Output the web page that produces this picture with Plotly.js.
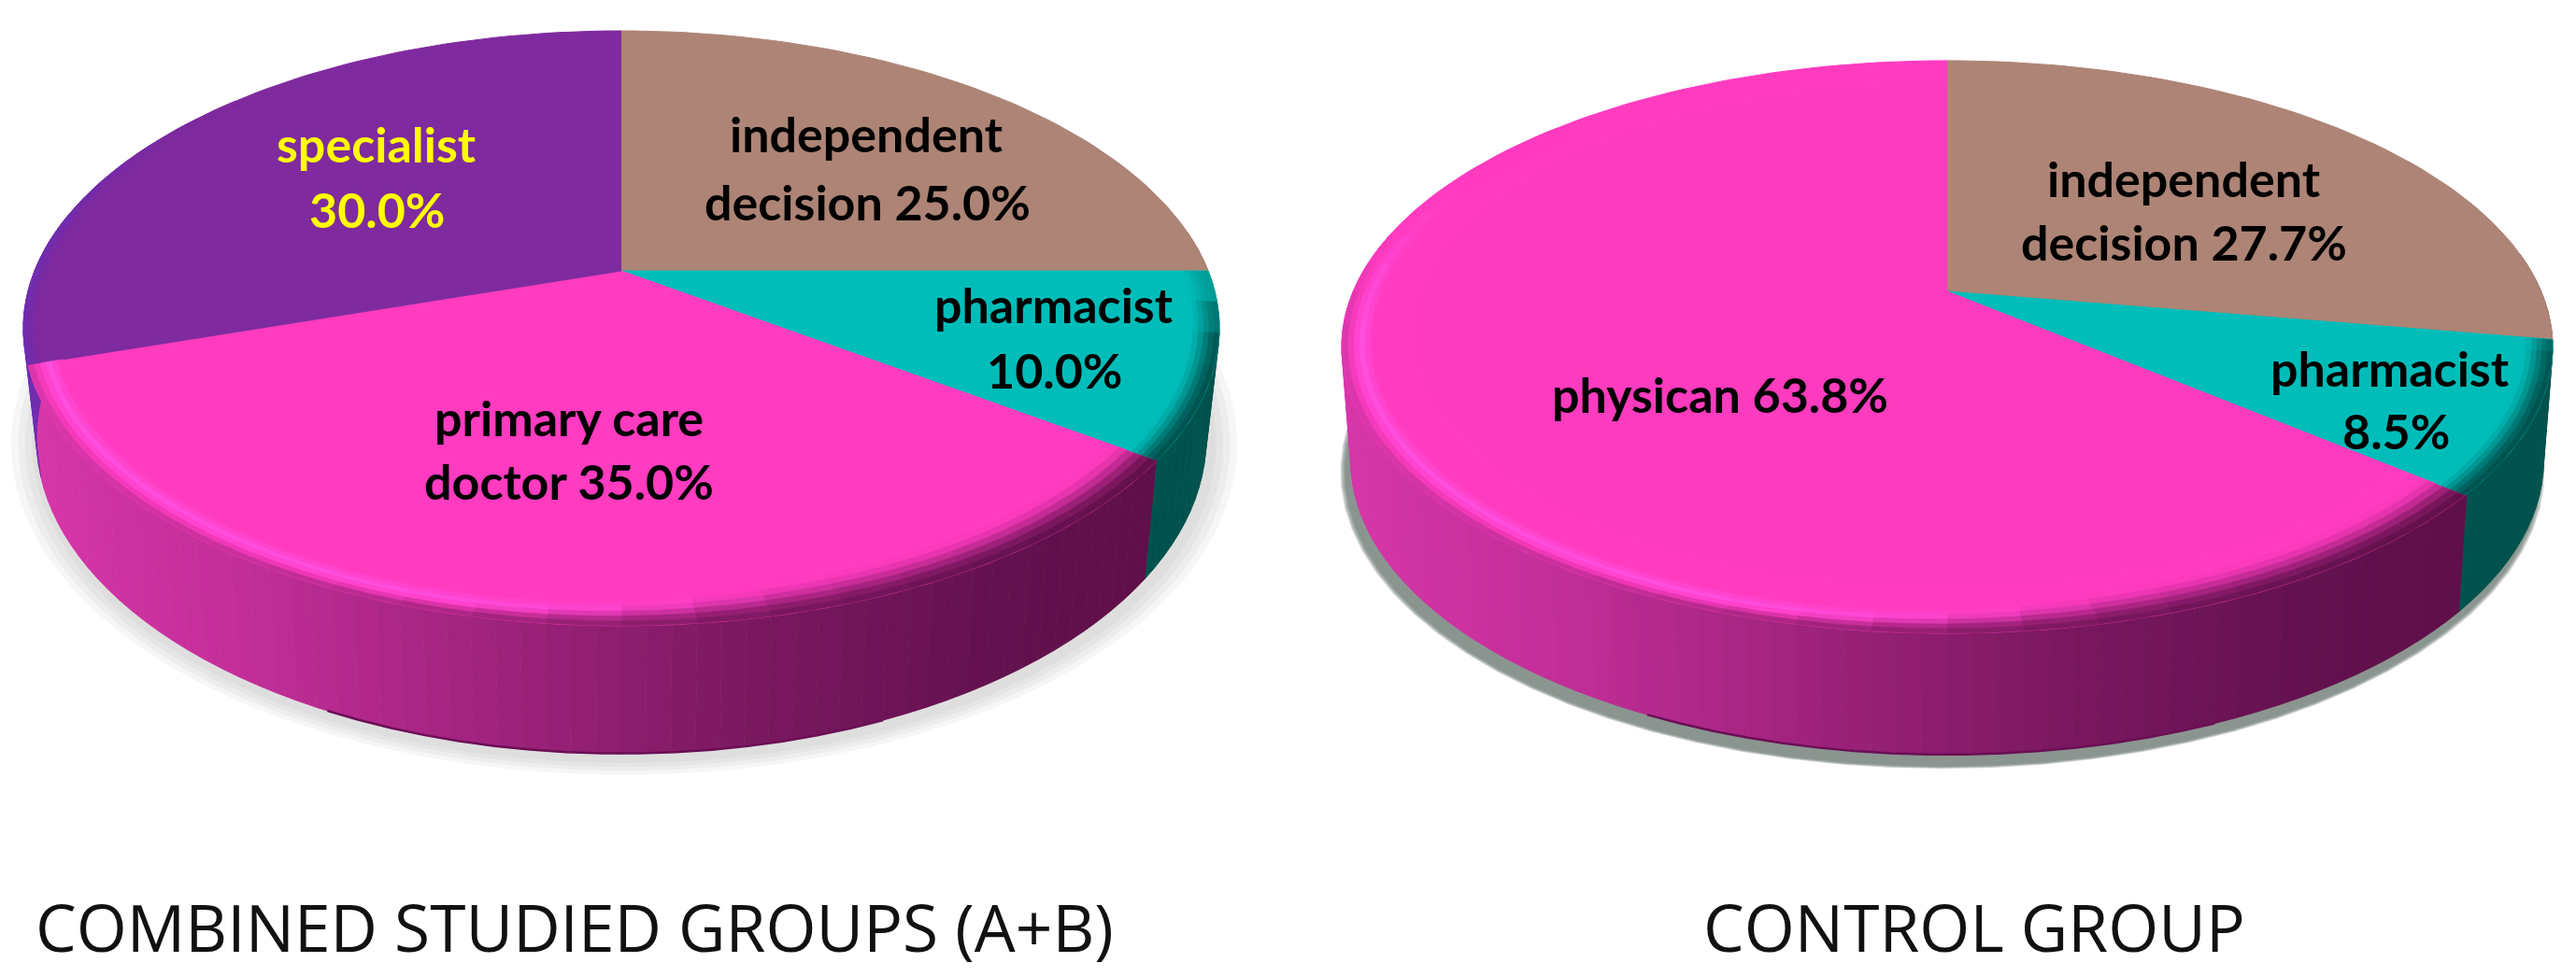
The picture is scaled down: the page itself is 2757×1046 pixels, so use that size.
<!DOCTYPE html>
<html><head><meta charset="utf-8">
<script src="https://cdn.plot.ly/plotly-3.0.1.min.js"></script>
<style>html,body{margin:0;padding:0;background:#fff}#c{width:2757px;height:1046px}</style>
</head><body><div id="c"></div>
<script>
// ---- data ----
const groupACategories = ["independent decision","pharmacist","primary care doctor","specialist"];
const groupAValues = [25.0,10.0,35.0,30.0];
const groupAColors = ["#AD8475","#00BDB9","#FF3BC0","#7F2A9E"];
const controlCategories = ["independent decision","pharmacist","physican"];
const controlValues = [27.7,8.5,63.8];
const controlColors = ["#AD8475","#00BDB9","#FF3BC0"];
const captions = ["COMBINED STUDIED GROUPS (A+B)","CONTROL GROUP"];

// ---- geometry of the two perspective discs (plot pixel space) ----
const geoA = {cx:665, ay:290, Rx:628, Ry:306.6, k:0.193, dY:114, sx:0.978, sy:1.06, inner:false,
  shadow:{dx:3,dy:6,c:"150,155,155",spread:30,a:0.085}};
const geoC = {cx:2084,ay:312, Rx:635.7,Ry:295, k:0.194, dY:120, sx:0.985, sy:1.027, inner:true,
  shadow:{dx:-5,dy:12,c:"110,120,115",spread:6,a:0.32}};

const D2R=Math.PI/180;
function P(g,r,th,bottom){
  const s=Math.sin(th*D2R),c=Math.cos(th*D2R),d=1+g.k*r*c;
  const sx=bottom?g.sx:1, sy=bottom?g.sy:1, off=bottom?g.dY:0;
  return [g.cx+g.Rx*sx*r*s/d, g.ay+off-g.Ry*sy*r*c/d];
}
function hex(c){return [1,3,5].map(i=>parseInt(c.substr(i,2),16));}
function mix(a,b,t){t=Math.max(0,Math.min(1,t));const A=hex(a),B=hex(b);return "#"+A.map((v,i)=>Math.round(v+(B[i]-v)*t).toString(16).padStart(2,"0")).join("");}
function ramp(stops,t){
  t=Math.max(0,Math.min(1,t));
  for(let i=1;i<stops.length;i++){ if(t<=stops[i][0]){const u=(t-stops[i-1][0])/(stops[i][0]-stops[i-1][0]);return mix(stops[i-1][1],stops[i][1],u);} }
  return stops[stops.length-1][1];
}
const sstep=(a,b,x)=>{const t=Math.max(0,Math.min(1,(x-a)/(b-a)));return t*t*(3-2*t);};
const traces=[];
function poly(pts,color,lw){
  traces.push({type:"scatter",mode:"lines",x:pts.map(p=>p[0]),y:pts.map(p=>p[1]),fill:"toself",fillcolor:color,
    line:{color:color,width:lw===undefined?1:lw},hoverinfo:"skip",showlegend:false});
}
function arc(g,r,a,b,bottom,step){const o=[];const n=Math.max(1,Math.ceil(Math.abs(b-a)/(step||2)));
  for(let i=0;i<=n;i++){const th=a+(b-a)*i/n;o.push(P(g,typeof r==="function"?r(th):r,th,bottom));}return o;}

const pinkWall=[[0,"#D836AA"],[0.2,"#C22E98"],[0.39,"#A3247F"],[0.64,"#7B1860"],[0.85,"#641150"],[1,"#5F0F48"]];
function drawPie(g,values,colors){
  const total=values.reduce((a,b)=>a+b,0);
  const bounds=[0];values.forEach(v=>bounds.push(bounds[bounds.length-1]+v/total*360));
  const pinkIdx=colors.indexOf("#FF3BC0");
  const sliceAt=th=>{for(let i=0;i<values.length;i++)if(th>=bounds[i]&&th<bounds[i+1])return i;return values.length-1;};
  const xL=g.cx-g.Rx*1.02, xR=P(g,1,bounds[pinkIdx],false)[0];
  const wallColor=(th)=>{
    const base=colors[sliceAt(th)];
    if(base==="#00BDB9") return "#00524E";
    if(base==="#FF3BC0") return ramp(pinkWall,(P(g,1,th,true)[0]-xL)/(xR-xL));
    if(base==="#7F2A9E") return "#6E2DB0";
    return "#7A5C50";
  };
  // soft shadow
  const s=g.shadow;
  for(let i=4;i>=1;i--){
    const pts=arc(g,1,0,360,true,4).map(p=>[p[0]+s.dx,p[1]+s.dy]);
    const gx=g.cx, gy=g.ay+g.dY+60, f=1+(i/4)*s.spread/620;
    poly(pts.map(p=>[gx+(p[0]-gx)*f,gy+(p[1]-gy)*f]),"rgba("+s.c+","+s.a+")",0);
  }
  // side wall strips
  const wallStart=82, wallEnd=282, step=2;
  for(let a=wallStart;a<wallEnd;a+=step){
    const m=a+step/2;
    poly(arc(g,1,a,a+step,false,step).concat(arc(g,1,a+step,a,true,step)),wallColor(m));
  }
  // dark thin line along the lowest part of the wall edge
  const rim=arc(g,1,158,205,true,3);
  traces.push({type:"scatter",mode:"lines",x:rim.map(p=>p[0]),y:rim.map(p=>p[1]),line:{color:"#6A0F55",width:2.5},hoverinfo:"skip",showlegend:false});
  // top face
  values.forEach((v,i)=>{
    poly([[g.cx,g.ay]].concat(arc(g,1,bounds[i],bounds[i+1],false,1.5)),colors[i]);
  });
  // faint ring on the big slice
  if(g.inner){
    poly([[g.cx,g.ay]].concat(arc(g,0.88,bounds[pinkIdx],bounds[pinkIdx+1],false,2)),"#FC3BBE",0);
  }
  // soft bevel along the rim
  const nb=6, da=6, from=84, to=312;
  const cuts=[];
  for(let a=from;a<to;a+=da)cuts.push(a);
  bounds.forEach(b=>{if(b>from&&b<to)cuts.push(b);});
  cuts.sort((p,q)=>p-q);cuts.push(to);
  const HL="#FF55EA";
  const width=(th,base)=>{
    if(base==="#00BDB9")return 0.05;
    if(base==="#FF3BC0")return 0.075-0.02*sstep(160,205,th);
    if(base==="#7F2A9E")return 0.022;
    return 0.0;
  };
  for(let c=0;c<cuts.length-1;c++){
    const a=cuts[c],b=cuts[c+1];
    if(b-a<0.01)continue;
    const m=(a+b)/2,i=sliceAt(m),base=colors[i];
    if(width(m,base)<=0)continue;
    const wallFade=1-sstep(258,285,m);
    const wc=wallColor(Math.min(m,281));
    for(let j=0;j<nb;j++){
      const u=(j+0.5)/nb;
      let col=base;
      if(base==="#00BDB9"){
        col=mix(base,wc,sstep(0,1,u)*sstep(84,108,m));
      }else if(base==="#FF3BC0"){
        const lit=sstep(160,205,m)*(1-sstep(258,300,m));
        const s0=0.62*sstep(160,205,m);
        col=mix(base,wc,sstep(s0,1,u)*wallFade);
        const bump=Math.exp(-Math.pow((u-0.42)/0.2,2));
        col=mix(col,HL,lit*bump*0.7);
      }else if(base==="#7F2A9E"){
        col=mix(base,"#6E2DB0",u*(1-sstep(280,310,m)));
      }
      const wf=th=>width(Math.min(Math.max(th,a+0.001),b-0.001),base);
      poly(arc(g,th=>1-wf(th)*(1-(j+1)/nb),a,b,false,3).concat(arc(g,th=>1-wf(th)*(1-j/nb),b,a,false,3)),col,0.6);
    }
  }
}
drawPie(geoA,groupAValues,groupAColors);
drawPie(geoC,controlValues,controlColors);

// ---- labels ----
function L(text,x,y,color){return {text:text,x:x,y:y,xref:"x",yref:"y",showarrow:false,xanchor:"center",yanchor:"middle",
  font:{family:"Lato, sans-serif",size:52,color:color||"#000",weight:700}};}
function C(text,x){return {text:text,x:x,y:992,xref:"x",yref:"y",showarrow:false,xanchor:"center",yanchor:"middle",
  font:{family:"Open Sans, sans-serif",size:69.5,color:"#111"}};}
const pct=v=>v.toFixed(1)+"%";
const annotations=[
  L("independent",927,143), L("decision "+pct(groupAValues[0]),928,216),
  L(groupACategories[3],403,154,"#FFFF00"), L(pct(groupAValues[3]),403,224,"#FFFF00"),
  L(groupACategories[1],1128,326), L(pct(groupAValues[1]),1128,396),
  L("primary care",609,447), L("doctor "+pct(groupAValues[2]),609,515),
  L("independent",2337,191), L("decision "+pct(controlValues[0]),2337,259),
  L(controlCategories[1],2558,394), L(pct(controlValues[1]),2564,461),
  L(controlCategories[2]+" "+pct(controlValues[2]),1841,422),
  C(captions[0],615), C(captions[1],2113)
];
Plotly.newPlot("c",traces,{
  width:2757,height:1046,margin:{l:0,r:0,t:0,b:0},paper_bgcolor:"#fff",plot_bgcolor:"#fff",showlegend:false,
  xaxis:{range:[0,2757],visible:false,fixedrange:true},
  yaxis:{range:[1046,0],visible:false,fixedrange:true},
  annotations:annotations
},{staticPlot:true,displayModeBar:false});
</script></body></html>
